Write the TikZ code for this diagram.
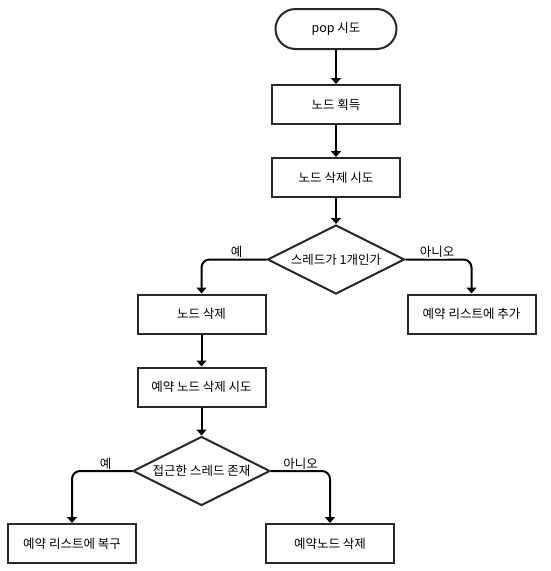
\documentclass[tikz,border=0pt]{standalone}
\usepackage{fontspec}
\setmainfont{Noto Sans CJK KR}
\usetikzlibrary{arrows.meta,positioning,shapes.geometric}
\definecolor{boxline}{RGB}{40,40,40}

\begin{document}
\begin{tikzpicture}[x=1pt,y=-1pt,>={Triangle[length=6pt,width=10pt]},
    font=\fontsize{12.5}{14}\selectfont,every node/.style={align=center},
    term/.style={draw=boxline,line width=2pt,rounded corners=20pt,minimum width=121pt,minimum height=40pt,inner sep=0pt},
    proc/.style={draw=boxline,line width=2pt,minimum width=128pt,minimum height=39pt,inner sep=0pt},
    dec/.style={draw=boxline,line width=2pt,diamond,aspect=2,minimum width=137pt,minimum height=69pt,inner sep=0pt},
    flow/.style={->,line width=2pt,rounded corners=8pt},
    lbl/.style={inner sep=1pt,fill=white}]
    \useasboundingbox (0,0) rectangle (551,571);
    \node[term] (pop) at (336,29) {pop 시도};
    \node[proc,below=34pt of pop] (get) {노드 획득};
    \node[proc,below=32pt of get] (try) {노드 삭제 시도};
    \node[dec,below=26pt of try] (one) {스레드가 1개인가};
    \node[proc,below left=34pt and 0pt of one.west] (del) {노드 삭제};
    \node[proc,below right=34pt and 1pt of one.east] (add) {예약 리스트에 추가};
    \node[proc,below=32pt of del] (trydel) {예약 노드 삭제 시도};
    \node[dec,below=28pt of trydel] (busy) {접근한 스레드 존재};
    \node[proc,below left=52pt and -5pt of busy.west] (back) {예약 리스트에 복구};
    \node[proc,below right=52pt and -6pt of busy.east] (rmres) {예약노드 삭제};
    \draw[flow] (pop)--(get);
    \draw[flow] (get)--(try);
    \draw[flow] (try)--(one);
    \draw[flow] (one.west)-|node[lbl,pos=.23,above]{예}(del);
    \draw[flow] (one.east)-|node[lbl,pos=.24,above]{아니오}(add);
    \draw[flow] (del)--(trydel);
    \draw[flow] (trydel)--(busy);
    \draw[flow] (busy.west)-|node[lbl,pos=.22,above]{예}(back);
    \draw[flow] (busy.east)-|node[lbl,pos=.25,above]{아니오}(rmres);
  \end{tikzpicture}
\end{document}
